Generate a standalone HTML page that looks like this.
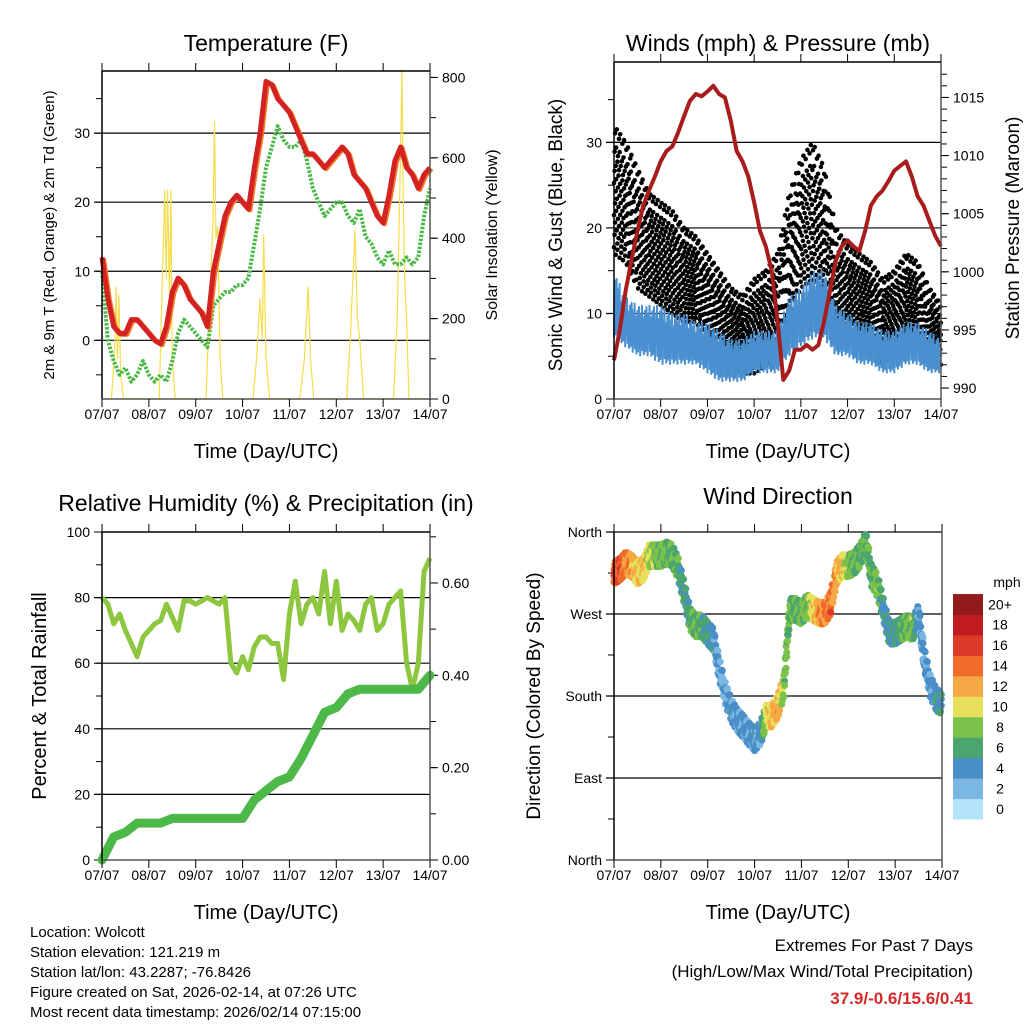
<!DOCTYPE html>
<html><head><meta charset="utf-8"><style>
body{margin:0;background:#fff}
svg{display:block;font-family:"Liberation Sans",sans-serif}
</style></head><body>
<svg id="c" width="1024" height="1024" viewBox="0 0 1024 1024">
<g><text x="266" y="51" font-size="23" text-anchor="middle">Temperature (F)</text></g>
<g><text x="778" y="51" font-size="23" text-anchor="middle">Winds (mph) &amp; Pressure (mb)</text></g>
<g><text x="266" y="511" font-size="23" text-anchor="middle">Relative Humidity (%) &amp; Precipitation (in)</text></g>
<g><text x="778" y="504" font-size="23" text-anchor="middle">Wind Direction</text></g>
<text transform="translate(54,235) rotate(-90)" font-size="15" text-anchor="middle">2m &amp; 9m T (Red, Orange) &amp; 2m Td (Green)</text>
<text transform="translate(497,235) rotate(-90)" font-size="16" text-anchor="middle">Solar Insolation (Yellow)</text>
<text transform="translate(562,235) rotate(-90)" font-size="19" text-anchor="middle">Sonic Wind &amp; Gust (Blue, Black)</text>
<text transform="translate(1019,228) rotate(-90)" font-size="19" text-anchor="middle">Station Pressure (Maroon)</text>
<text transform="translate(46,696) rotate(-90)" font-size="20" text-anchor="middle">Percent &amp; Total Rainfall</text>
<text transform="translate(540,696) rotate(-90)" font-size="19" text-anchor="middle">Direction (Colored By Speed)</text>
<text x="266" y="458" font-size="20" text-anchor="middle">Time (Day/UTC)</text>
<text x="778" y="458" font-size="20" text-anchor="middle">Time (Day/UTC)</text>
<text x="266" y="919" font-size="20" text-anchor="middle">Time (Day/UTC)</text>
<text x="778" y="919" font-size="20" text-anchor="middle">Time (Day/UTC)</text>
<g font-size="15">
<text x="30" y="937">Location: Wolcott</text>
<text x="30" y="957">Station elevation: 121.219 m</text>
<text x="30" y="977">Station lat/lon: 43.2287; -76.8426</text>
<text x="30" y="997">Figure created on Sat, 2026-02-14, at 07:26 UTC</text>
<text x="30" y="1017">Most recent data timestamp: 2026/02/14 07:15:00</text>
</g>
<g text-anchor="end">
<text x="973" y="951" font-size="17">Extremes For Past 7 Days</text>
<text x="973" y="977" font-size="17">(High/Low/Max Wind/Total Precipitation)</text>
<text x="973" y="1004" font-size="17" font-weight="bold" fill="#d42a2a">37.9/-0.6/15.6/0.41</text>
</g>
<g id="layer"></g>
</svg>
<script>
// ---- data ----
const dayLabels=["07/07","08/07","09/07","10/07","11/07","12/07","13/07","14/07"];
const tempT=[12,6,2,1,1,3,3,2,1,0,-0.5,2,7,9,8,6,5,4,2,10,14,18,20,21,20,19,25,30,37.5,37,35,34,33,31,29,27,27,26,25,26,27,28,27,24,23,22,20,18,17,21,26,28,25,24,22,24,25];
const tempTd=[10,0,-3,-5,-4,-6,-5,-3,-5,-6,-5,-6,-3,1,3,2,1,0,-1,5,6,7,7,8,8,9,14,19,25,28,31,29,28,28,29,26,22,20,18,19,20,20,18,17,19,15,14,12,11,13,11,11,12,11,12,18,22];
const solarT=[0,0.2,0.27,0.3,0.33,0.36,0.4,0.46,1.22,1.3,1.34,1.37,1.4,1.44,1.47,1.5,1.56,2.22,2.3,2.37,2.4,2.43,2.47,2.52,2.58,3.22,3.3,3.37,3.42,3.45,3.5,3.58,4.22,4.32,4.4,4.45,4.52,5.22,5.3,5.4,5.45,5.5,5.58,6.22,6.3,6.37,6.4,6.43,6.46,6.5,6.55,7];
const solarV=[0,0,120,280,100,260,60,0,0,350,520,300,520,250,520,100,0,0,250,450,690,400,430,100,0,0,100,250,150,410,100,0,0,100,280,100,0,0,150,420,200,150,0,0,200,600,820,500,300,200,0,0];
const pressure=[992.4,995,998.4,1001,1003.5,1005.7,1007,1008.2,1009.5,1010.4,1010.8,1012,1013.4,1014.7,1015.3,1015.1,1015.5,1016,1015.3,1015,1013,1010.4,1009.5,1008.2,1006,1003.5,1002.2,1000.1,995.8,990.7,991.5,993.3,993.3,993.7,993.3,993.7,995.8,998.4,1001,1002.2,1002.7,1002.2,1001.8,1003.5,1005.7,1006.5,1007,1007.8,1008.7,1009.1,1009.5,1008.2,1006.5,1005.7,1004.4,1003.1,1002.2];
const windLo=[7,6,5,5,4,4,4,4,3,2,2,2,3,3,3,5,6,7,7,5,5,4,4,3,3,4,4,3,3];
const windHi=[15,12,11,11,11,10,10,9,9,8,7,7,8,8,8,12,13,15,15,11,10,9,9,8,8,9,9,8,7];
const gustLo=[18,17,14,13,12,11,10,10,8,6,5,4,4,5,6,11,14,15,14,9,8,7,7,5,6,7,7,5,5];
const gustHi=[30,28,25,22,21,20,18,17,15,13,11,10,12,13,15,22,26,28,25,18,16,15,14,12,13,15,14,11,9];
const rh=[80,78,72,75,70,66,62,68,70,72,73,78,74,70,79,79,78,79,80,79,78,80,60,57,62,58,65,68,68,66,66,55,75,85,72,78,80,75,88,72,85,70,75,73,70,78,80,70,72,78,80,82,60,52,60,88,92];
const precip=[0,0.05,0.06,0.08,0.08,0.08,0.09,0.09,0.09,0.09,0.09,0.09,0.09,0.13,0.15,0.17,0.18,0.22,0.27,0.32,0.33,0.36,0.37,0.37,0.37,0.37,0.37,0.37,0.40];
const windDir=[315,319,326,323,315,319,334,334,334,337,334,319,293,264,257,257,249,242,209,183,165,154,147,139,132,139,158,158,169,191,275,275,271,279,275,271,271,282,315,323,323,326,334,348,312,301,275,249,249,253,257,253,268,220,191,176,172];
const windSpd=[14,15,13,12,10,11,9,8,7,7,6,6,5,6,7,6,5,4,3,2,4,3,3,3,4,3,9,11,12,8,7,6,7,7,10,12,13,14,12,11,8,7,6,6,6,8,4,4,5,6,7,8,3,3,3,4,4];
const spdLabels=["0","2","4","6","8","10","12","14","16","18","20+"];
const spdColors=["#b3e3f8","#7ab8e3","#4a8ec8","#4aa66e","#7cc24a","#e6e05a","#f5a843","#f06a2a","#de3a2a","#c01c22","#931a1a"];

const NS="http://www.w3.org/2000/svg";
const L=document.getElementById('layer');
function mk(tag,at,parent){const e=document.createElementNS(NS,tag);for(const k in at)e.setAttribute(k,at[k]);(parent||L).appendChild(e);return e;}
function txt(x,y,s,size,anchor,parent){const e=mk('text',{x:x,y:y,'font-size':size,'text-anchor':anchor},parent);e.textContent=s;return e;}

function panel(name,x0,x1,y0,y1){
  const g=mk('g',{});
  
  
  return {g,x0,x1,y0,y1,xs:t=>x0+t/7*(x1-x0)};
}
function frame(p,top){
  const b=mk('g',{},p.g);
  
  
  mk('line',{x1:p.x0,y1:p.y0,x2:p.x0,y2:p.y1,stroke:'#000','stroke-width':1.5},b);
  mk('line',{x1:p.x1,y1:p.y0,x2:p.x1,y2:p.y1,stroke:'#555','stroke-width':1.5},b);
  mk('line',{x1:p.x0,y1:p.y1,x2:p.x1,y2:p.y1,stroke:'#555','stroke-width':1.5},b);
  if(top)mk('line',{x1:p.x0,y1:p.y0,x2:p.x1,y2:p.y0,stroke:'#000','stroke-width':1.5},b);
  for(let d=0;d<=7;d++){const x=p.xs(d);
    mk('line',{x1:x,y1:p.y1,x2:x,y2:p.y1+8,stroke:'#000'},b);
    mk('line',{x1:x,y1:p.y0,x2:x,y2:p.y0-8,stroke:'#000'},b);
    const t=txt(x,p.y1+20,dayLabels[d],14,'middle',b);
    
    
  }
}
function leftAxis(p,vmin,vmax,ticks,minor,labels,grid){
  const ys=v=>p.y1-(v-vmin)/(vmax-vmin)*(p.y1-p.y0);
  const a=mk('g',{},p.g);
  
  
  minor.forEach(v=>mk('line',{x1:p.x0-6,y1:ys(v),x2:p.x0,y2:ys(v),stroke:'#000'},a));
  ticks.forEach((v,i)=>{
    if(grid.includes(v))mk('line',{x1:p.x0-8,y1:ys(v),x2:p.x1,y2:ys(v),stroke:'#000','stroke-width':1.2},a);
    else mk('line',{x1:p.x0-8,y1:ys(v),x2:p.x0,y2:ys(v),stroke:'#000'},a);
    const t=txt(p.x0-12,ys(v)+5,labels[i],14,'end',a);
    
    
  });
  return ys;
}
function rightAxis(p,vmin,vmax,ticks,minor,labels){
  const ys=v=>p.y1-(v-vmin)/(vmax-vmin)*(p.y1-p.y0);
  const a=mk('g',{},p.g);
  
  
  minor.forEach(v=>mk('line',{x1:p.x1,y1:ys(v),x2:p.x1+6,y2:ys(v),stroke:'#000'},a));
  ticks.forEach((v,i)=>{
    mk('line',{x1:p.x1,y1:ys(v),x2:p.x1+8,y2:ys(v),stroke:'#000'},a);
    const t=txt(p.x1+12,ys(v)+5,labels[i],14,'start',a);
    
    
  });
  return ys;
}
function linePath(p,vals,ys,step){return vals.map((v,i)=>(i?'L':'M')+p.xs(i*step).toFixed(1)+','+ys(v).toFixed(1)).join('');}
const r=(a,b,s)=>{const o=[];for(let v=a;v<=b+1e-9;v+=s)o.push(+v.toFixed(3));return o;};
function interp(arr,step,t){const f=t/step,i=Math.min(arr.length-2,Math.floor(f)),u=f-i;return arr[i]+(arr[i+1]-arr[i])*u;}

// ---- Panel 1: temperature ----
const p1=panel('temperature-panel',102,430,71,399);
const t1y=leftAxis(p1,-8.5,39,[0,10,20,30],r(-5,35,5),["0","10","20","30"],[0,10,20,30]);
const s1y=rightAxis(p1,0,816,[0,200,400,600,800],r(0,800,100),["0","200","400","600","800"]);
const sol=mk('path',{d:solarT.map((t,i)=>(i?'L':'M')+p1.xs(t).toFixed(1)+','+s1y(solarV[i]).toFixed(1)).join(''),fill:'none',stroke:'#f7dc4a','stroke-width':1.2},p1.g);


const tdl=mk('path',{d:linePath(p1,tempTd,t1y,0.125),fill:'none',stroke:'#4cb848','stroke-width':4,'stroke-dasharray':'2.5 1.5','stroke-linejoin':'round'},p1.g);


const t9=mk('path',{d:linePath(p1,tempT,t1y,0.125),fill:'none',stroke:'#f07a2a','stroke-width':5,transform:'translate(1.5,1)','stroke-linejoin':'round'},p1.g);


const t2=mk('path',{d:linePath(p1,tempT,t1y,0.125),fill:'none',stroke:'#d42222','stroke-width':5,'stroke-linejoin':'round'},p1.g);


frame(p1,true);

// ---- Panel 2: winds & pressure ----
const p2=panel('winds-panel',614,941,62,399);
const w2y=leftAxis(p2,0,39.4,[0,10,20,30],r(0,35,5),["0","10","20","30"],[10,20,30]);
const pr2y=rightAxis(p2,989.06,1018.05,[990,995,1000,1005,1010,1015],r(990,1017,1),["990","995","1000","1005","1010","1015"]);
const fracs=[0.05,0.55,0.3,0.8,0.15,0.65,0.4,0.95,0.25,0.7,0.0,0.5,0.85,0.35,0.6,1.0,0.2,0.45,0.75,0.1];
const gustG=mk('g',{fill:'#000'},p2.g);


let k=0;
for(let t=0;t<=7;t+=0.012){
  const lo=interp(gustLo,0.25,t),hi=interp(gustHi,0.25,t);
  for(let j=0;j<3;j++){
    const f=fracs[(k++)%fracs.length];
    const v=lo-1+(hi-lo+3)*f;
    const c=mk('circle',{cx:p2.xs(t).toFixed(1),cy:w2y(v).toFixed(1),r:2.3},gustG);
    
    
  }
}
let zz='';k=0;
for(let t=0;t<=7;t+=0.008){
  const lo=interp(windLo,0.25,t),hi=interp(windHi,0.25,t);
  const f=fracs[(k++)%fracs.length];
  const v=lo+(hi-lo)*(k%2?f*0.5:0.5+f*0.5);
  zz+=(zz?'L':'M')+p2.xs(t).toFixed(1)+','+w2y(v).toFixed(1);
}
const wl=mk('path',{d:zz,fill:'none',stroke:'#4a90d0','stroke-width':2},p2.g);


const prl=mk('path',{d:linePath(p2,pressure,pr2y,0.125),fill:'none',stroke:'#a81c1c','stroke-width':4,'stroke-linejoin':'round'},p2.g);


frame(p2,true);

// ---- Panel 3: RH & precip ----
const p3=panel('humidity-panel',102,430,532,860);
const h3y=leftAxis(p3,0,100,[0,20,40,60,80,100],r(0,100,10),["0","20","40","60","80","100"],[20,40,60,80]);
const pc3y=rightAxis(p3,0,0.7104,[0,0.2,0.4,0.6],r(0,0.7,0.1),["0.00","0.20","0.40","0.60"]);
const rhl=mk('path',{d:linePath(p3,rh,h3y,0.125),fill:'none',stroke:'#8dc63f','stroke-width':5,'stroke-linejoin':'round'},p3.g);


const pcl=mk('path',{d:linePath(p3,precip,pc3y,0.25),fill:'none',stroke:'#4cb848','stroke-width':9,'stroke-linejoin':'round','stroke-linecap':'round'},p3.g);


frame(p3,true);

// ---- Panel 4: wind direction ----
const p4=panel('wind-direction-panel',614,942,532,860);
const d4y=leftAxis(p4,0,360,[0,90,180,270,360],r(0,360,45),["North","East","South","West","North"],[90,180,270,360]);
function spdColor(s){return spdColors[Math.min(10,Math.max(0,Math.round(s/2)))];}
const offs=[-10,4,-3,9,-7,1,12,-12,6,-5];
let q=0;
for(let i=0;i<windDir.length-1;i++){
  const n=8;
  for(let m=0;m<n;m++){
    const f=m/n,t=(i+f)*0.125,d=windDir[i]+(windDir[i+1]-windDir[i])*f,s=windSpd[i]+(windSpd[i+1]-windSpd[i])*f;
    for(let j=0;j<3;j++){
      const off=offs[(q++)%offs.length];
      const c=mk('circle',{cx:p4.xs(t).toFixed(1),cy:d4y(d+off).toFixed(1),r:3.5,fill:spdColor(s+(j-1))},p4.g);
      
      
    }
  }
}
frame(p4,false);

// colorbar
const cb=mk('g',{});


const cbh=20.45;
spdColors.forEach((c,i)=>{
  const y=819-(i+1)*cbh;
  mk('rect',{x:953,y:y,width:30,height:cbh+0.5,fill:c},cb);
  const t=txt(1000,y+cbh/2+5,spdLabels[i],14,'middle',cb);
  
  
});
const mph=txt(1007,587,'mph',14,'middle',cb);


</script>
</body></html>
